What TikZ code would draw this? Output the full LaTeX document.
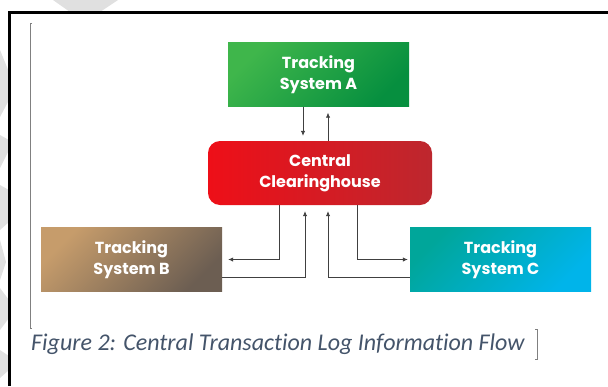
\documentclass[tikz,border=0pt]{standalone}
\usepackage{fontspec}
\setmainfont{Carlito}[Ligatures={NoCommon}]
\newfontfamily\boxfont{Poppins}
\usetikzlibrary{arrows.meta}

\definecolor{greenA}{HTML}{3FB64B}
\definecolor{greenB}{HTML}{068F3F}
\definecolor{redA}{HTML}{EE0F18}
\definecolor{redB}{HTML}{BD272E}
\definecolor{brownA}{HTML}{C69C6B}
\definecolor{brownB}{HTML}{6C5E52}
\definecolor{cyanA}{HTML}{00A69A}
\definecolor{cyanB}{HTML}{00B4EA}
\definecolor{capblue}{HTML}{44546A}
\definecolor{wmgray}{HTML}{E0E0E0}

\tikzset{
  sysbox/.style={minimum width=181pt, minimum height=64pt, inner sep=0pt,
    align=center, text=white,
    font=\boxfont\bfseries\fontsize{16}{21}\selectfont},
  grad/.style 2 args={top color=#1, bottom color=#2, shading angle=45},
  flow/.style={draw=black!75, line width=0.7pt,
    -{Latex[length=5pt,width=4.4pt]}},
  caption/.style={text=capblue, inner sep=0pt,
    font=\itshape\fontsize{24}{28}\selectfont},
}

\begin{document}
\begin{tikzpicture}[x=1pt,y=-1pt]
\useasboundingbox (0,0) rectangle (608,386);

% faint watermark outside the frame
\fill[wmgray] (53,0) -- (118,0) -- (100,12) -- (70,12) -- cycle;
\fill[wmgray] (0,50) -- (9,72) -- (9,100) -- (0,117) -- cycle;
\fill[wmgray] (0,135) -- (9,140) -- (9,150) -- (0,168) -- cycle;
\fill[wmgray] (0,185) -- (9,190) -- (9,222) -- (0,230) -- cycle;
\fill[wmgray] (0,240) -- (6,262) -- (0,280) -- cycle;
\fill[wmgray] (0,288) -- (9,300) -- (9,318) -- (0,330) -- cycle;
\fill[wmgray] (0,350) -- (9,356) -- (9,370) -- (0,378) -- cycle;

% page frame and figure brackets
\draw[line width=2.2pt] (9.5,386) -- (9.5,12.5) -- (608,12.5);
\draw[gray, line width=0.6pt] (32,23) -- (30,23) -- (30,328) -- (32,328);
\draw[gray, line width=0.6pt] (535,329) -- (537,329) -- (537,359) -- (535,359);

% systems and hub
\node[sysbox, grad={greenA}{greenB}] (sysA) at (318.5,74.5) {Tracking\\System A};
\node[sysbox, minimum width=224pt, rounded corners=12pt,
  left color=redA, right color=redB] (hub) at (320,173) {Central\\Clearinghouse};
\node[sysbox, grad={brownA}{brownB}] (sysB) at (131.5,259.5) {Tracking\\System B};
\node[sysbox, grad={cyanA}{cyanB}] (sysC) at (500.5,259.5) {Tracking\\System C};

% links to the hub
\draw[flow, shorten >=5pt] ([xshift=-15.5pt]sysA.south) -- ([xshift=-17pt]hub.north);
\draw[flow, shorten >=6pt] ([xshift=8pt]hub.north) -- ([xshift=9.5pt]sysA.south);
\draw[flow, shorten >=6pt] ([xshift=-41pt]hub.south) |- (sysB.east);
\draw[flow, shorten >=6pt] ([yshift=-17.5pt]sysB.east) -| ([xshift=-15pt]hub.south);
\draw[flow, shorten >=2pt] ([xshift=37pt]hub.south) |- (sysC.west);
\draw[flow, shorten >=6pt] ([yshift=-17.5pt]sysC.west) -| ([xshift=8pt]hub.south);

\node[caption, anchor=base west] (cap) at (31,350) {Figure 2: Central Transaction Log Information Flow};

\end{tikzpicture}
\end{document}
